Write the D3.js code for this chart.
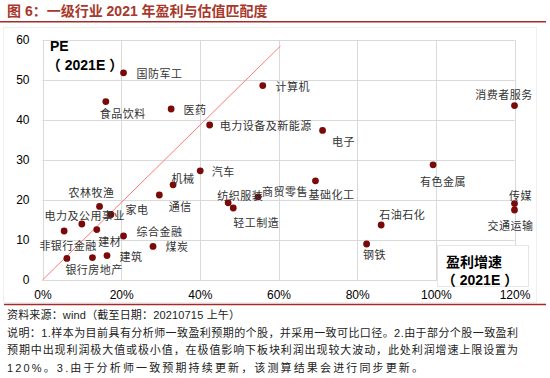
<!DOCTYPE html>
<html>
<head>
<meta charset="utf-8">
<script src="https://cdn.jsdelivr.net/npm/d3@7"></script>
<style>
  html, body { margin: 0; padding: 0; background: #fff; }
  svg { display: block; }
</style>
</head>
<body>
<svg id="chart" width="550" height="378"></svg>
<script>
// ---------- data ----------
const industries = ["国防军工","食品饮料","医药","计算机","电力设备及新能源","电子","汽车","基础化工",
  "商贸零售","纺织服装","轻工制造","钢铁","石油石化","有色金属","消费者服务","传媒","交通运输",
  "机械","通信","农林牧渔","家电","电力及公用事业","建材","非银行金融","综合金融","煤炭","建筑","银行","房地产"];
const growth = [20.6,16.1,32.7,56.0,42.5,71.2,40.1,69.4,
  54.8,47.2,48.5,82.4,86.1,99.3,120,120,120,
  33.2,29.7,14.5,17.4,10.0,13.8,5.5,20.6,28.1,16.4,6.2,12.7];
const pe = [51.8,44.6,42.75,48.6,38.75,37.4,27.3,24.8,
  20.8,19.3,18.0,9.0,13.75,28.8,43.6,19.1,17.5,
  23.8,21.25,18.4,16.4,14.0,12.6,12.25,11.0,8.4,6.1,5.4,5.6];
const xTicks = [0,20,40,60,80,100,120];
const yTicks = [0,10,20,30,40,50,60];
const refLine = [[0,0],[60.5,58.5]];

// label layout offsets (px from dot), kept separate from the data
const labelOffsets = [[36,0],[17,11],[24,0],[30,0],[56,0],[21,11],[23,0],[16,13.6],
  [27,-6],[12,-8],[23,14],[8,10],[21,-11],[10,16],[-10.6,-11.7],[6,-9],[-4,15],
  [10,-7],[21,11],[-8,-14.6],[26,-5],[3,-9],[13,11],[4,14],[36,-5],[24,0],[24,0],[10,11],[13,11.6]];

const titleText = "图 6：一级行业 2021 年盈利与估值匹配度";
const footLines = [
  "资料来源：wind（截至日期：20210715 上午）",
  "说明：1.样本为目前具有分析师一致盈利预期的个股，并采用一致可比口径。2.由于部分个股一致盈利",
  "预期中出现利润极大值或极小值，在极值影响下板块利润出现较大波动，此处利润增速上限设置为",
  "120%。3.由于分析师一致预期持续更新，该测算结果会进行同步更新。"
];
const footLengths = [233,511,511,416];

// ---------- drawing ----------
const svg = d3.select("#chart");
const latin = "'Liberation Sans', Arial, 'Noto Sans CJK SC', sans-serif";
const cjk = "'Noto Sans CJK SC', sans-serif";

const x = d3.scaleLinear().domain([0,120]).range([42.5,514.5]);
const y = d3.scaleLinear().domain([0,60]).range([280,40]);

// chart area faint border
svg.append("rect").attr("x",3.5).attr("y",27.5).attr("width",533).attr("height",275)
  .attr("fill","none").attr("stroke","#efefef");

// title
svg.append("text").attr("x",7).attr("y",16)
  .attr("font-family",latin).attr("font-weight","bold").attr("font-size",14)
  .attr("fill","#a8382a").text(titleText);
svg.append("line").attr("x1",0).attr("x2",546).attr("y1",21.7).attr("y2",21.7)
  .attr("stroke","#a52a2a").attr("stroke-width",1.5);

// gridlines
const grid = svg.append("g").attr("stroke","#d9d9d9").attr("stroke-width",1);
grid.selectAll(".gx").data(xTicks).join("line")
  .attr("x1",d=>Math.round(x(d))+0.5).attr("x2",d=>Math.round(x(d))+0.5)
  .attr("y1",y(0)).attr("y2",y(60));
grid.selectAll(".gy").data(yTicks).join("line")
  .attr("y1",d=>Math.round(y(d))+0.5).attr("y2",d=>Math.round(y(d))+0.5)
  .attr("x1",x(0)).attr("x2",x(120));

// reference diagonal line
svg.append("path")
  .attr("d", d3.line().x(d=>x(d[0])).y(d=>y(d[1]))(refLine))
  .attr("fill","none").attr("stroke","#ff7a7a").attr("stroke-width",1);

// axis title box (bottom right), drawn before the tick labels
svg.append("rect").attr("x",437.5).attr("y",245.5).attr("width",91).attr("height",41)
  .attr("fill","#fff").attr("stroke","#e6e6e6");

// axes (labels only)
const xAxis = svg.append("g").attr("transform",`translate(0,${y(0)})`)
  .call(d3.axisBottom(x).tickValues(xTicks).tickSize(0).tickPadding(10).tickFormat(d=>d+"%"));
const yAxis = svg.append("g").attr("transform",`translate(${x(0)},0)`)
  .call(d3.axisLeft(y).tickValues(yTicks).tickSize(0).tickPadding(13));
[xAxis,yAxis].forEach(a=>{
  a.select(".domain").remove();
  a.selectAll("text").attr("font-family",latin).attr("font-size",12).attr("fill","#000");
});

function yearLabel(cx, cy){
  const t = svg.append("text").attr("x",cx).attr("y",cy).attr("text-anchor","middle")
    .attr("font-weight","bold").attr("font-size",14).attr("fill","#000");
  t.append("tspan").attr("font-family",cjk).text("（");
  t.append("tspan").attr("font-family",latin).attr("dx",4).text("2021E");
  t.append("tspan").attr("font-family",cjk).attr("dx",4).text("）");
}
svg.append("text").attr("x",474).attr("y",267).attr("text-anchor","middle")
  .attr("font-family",cjk).attr("font-weight","bold").attr("font-size",14).attr("fill","#000").text("盈利增速");
yearLabel(480,285);
svg.append("text").attr("x",50).attr("y",51)
  .attr("font-family",latin).attr("font-weight","bold").attr("font-size",14).attr("fill","#000").text("PE");
yearLabel(85,70);

// points
const pts = industries.map((n,i)=>({name:n, g:growth[i], p:pe[i], off:labelOffsets[i]}));
svg.append("g").selectAll("circle").data(pts).join("circle")
  .attr("cx",d=>x(d.g)).attr("cy",d=>y(d.p)).attr("r",3.4).attr("fill","#7a0a0a");

svg.append("g").selectAll("text").data(pts).join("text")
  .attr("x",d=>x(d.g)+d.off[0]).attr("y",d=>y(d.p)+d.off[1])
  .attr("text-anchor","middle").attr("dominant-baseline","central")
  .attr("font-family",cjk).attr("font-size",11).attr("letter-spacing","0.5px")
  .attr("fill","#333").text(d=>d.name);

// footer
svg.append("line").attr("x1",4).attr("x2",546).attr("y1",304.5).attr("y2",304.5)
  .attr("stroke","#a52a2a").attr("stroke-width",1.5);
const fy = [319,336.5,354,371.5];
footLines.forEach((t,i)=>{
  svg.append("text").attr("x",7).attr("y",fy[i])
    .attr("font-family",latin).attr("font-size",11).attr("fill","#222")
    .attr("textLength",footLengths[i]).attr("lengthAdjust","spacing").text(t);
});
</script>
</body>
</html>
